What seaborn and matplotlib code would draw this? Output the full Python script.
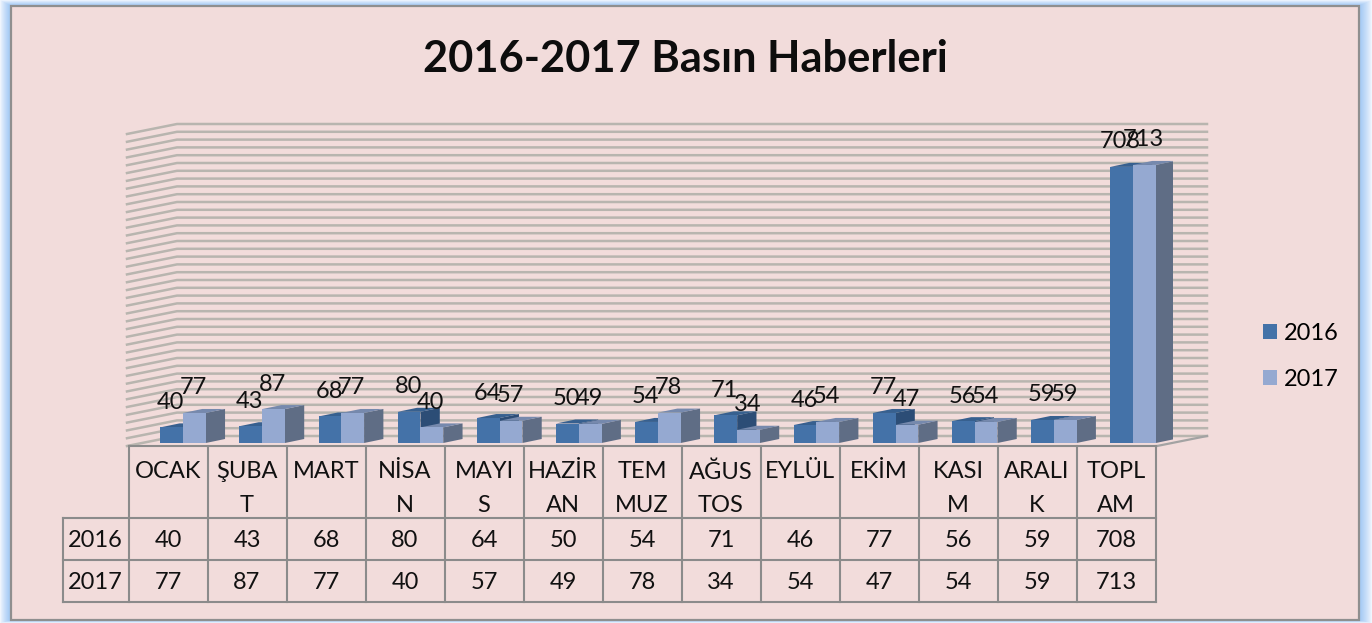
import numpy as np
import pandas as pd
import matplotlib
matplotlib.use("Agg")
import matplotlib.pyplot as plt
from matplotlib.patches import Rectangle, Polygon
import seaborn as sns

# ---- data ----
categories = ["OCAK", "ŞUBAT", "MART", "NİSAN", "MAYIS", "HAZİRAN", "TEMMUZ",
              "AĞUSTOS", "EYLÜL", "EKİM", "KASIM", "ARALIK", "TOPLAM"]
header_labels = ["OCAK", "ŞUBA\nT", "MART", "NİSA\nN", "MAYI\nS", "HAZİR\nAN", "TEM\nMUZ",
                 "AĞUS\nTOS", "EYLÜL", "EKİM", "KASI\nM", "ARALI\nK", "TOPL\nAM"]
values_2016 = [40, 43, 68, 80, 64, 50, 54, 71, 46, 77, 56, 59, 708]
values_2017 = [77, 87, 77, 40, 57, 49, 78, 34, 54, 47, 54, 59, 713]
series_names = ["2016", "2017"]
title_text = "2016-2017 Basın Haberleri"

# ---- style / layout ----
W, H = 1372, 623
PINK = "#f2dcdb"
BLUE, LIGHT = "#4472a8", "#95a9d1"
SIDES = {"2016": "#2c4d76", "2017": "#5f6d85"}
TOPS = {"2016": "#37608f", "2017": "#7689ad"}
GRID = "#b8b5af"
TABLE = "#8b8b8b"
FONT = "Lato"
FS = 17
plt.rcParams["font.family"] = [FONT, "DejaVu Sans"]


def px_axes(fig, left, top, right, bottom, **kw):
    return fig.add_axes([left / W, 1 - bottom / H, (right - left) / W, (bottom - top) / H], **kw)


fig = plt.figure(figsize=(W / 100, H / 100), dpi=100)

# backdrop with the soft blue edge, and the pink panel
bg = px_axes(fig, 0, 0, W, H, zorder=0)
xx, yy = np.meshgrid(np.arange(W) + .5, np.arange(H) + .5)
edge = np.minimum.reduce([xx / 9, (W - xx) / 11, yy / 5, (H - yy) / 2.5])
edge = np.clip(edge, 0, 1) ** .8
c0, c1 = np.array([.97, .98, 1.0]), np.array([.66, .80, .96])
bg.imshow(c0 + (c1 - c0) * edge[..., None], extent=(0, W, H, 0), aspect="auto")
bg.add_patch(Rectangle((10.5, 6), 1348.5, 614, fc=PINK, ec="#8f8f8f", lw=1.6))
bg.set_xlim(0, W)
bg.set_ylim(H, 0)
bg.axis("off")

# back wall with its gridlines, y scale 0..800
wall = px_axes(fig, 177, 124, 1207, 436, zorder=1)
wall.set_xlim(0, 1)
wall.set_ylim(0, 800)
wall.axis("off")
wall_dx = 50 / 1030
wall_dy = 10 / 312 * 800
for v in range(0, 801, 20):
    wall.plot([-wall_dx, 0, 1], [v - wall_dy, v, v], color=GRID, lw=1.8, clip_on=False,
              solid_joinstyle="miter")
wall.plot([1, 1 - wall_dx], [0, -wall_dy], color="#a3a3a3", lw=1.6, clip_on=False)

# bars
df = pd.DataFrame({
    "month": categories * 2,
    "count": values_2016 + values_2017,
    "year": [series_names[0]] * len(categories) + [series_names[1]] * len(categories),
})
ax = px_axes(fig, 143.4, 131, 1172.6, 443, zorder=2)
ax.patch.set_alpha(0)
sns.barplot(data=df, x="month", y="count", hue="year", hue_order=series_names,
            order=categories, palette=[BLUE, LIGHT], width=0.575, gap=0, saturation=1,
            ax=ax, legend=True, zorder=5, linewidth=0)
ax.set_xlim(-0.5, 12.5)
ax.set_ylim(0, 800)
ax.axis("off")

# extrusion derived from each bar's own geometry
depth_x = 19.3 / (1029.2 / 13)
depth_y = 4 / 0.39
for i, (name, cont) in enumerate(zip(series_names, ax.containers)):
    for bar in cont:
        x0, w, h = bar.get_x(), bar.get_width(), bar.get_height()
        x1 = x0 + w
        ax.add_patch(Polygon([(x1, 0), (x1 + depth_x, depth_y), (x1 + depth_x, h + depth_y), (x1, h)],
                             fc=SIDES[name], ec="none", zorder=2 + i))
        ax.add_patch(Polygon([(x0, h), (x0 + depth_x, h + depth_y), (x1 + depth_x, h + depth_y), (x1, h)],
                             fc=TOPS[name], ec="none", zorder=2.2 + i))

# data labels
for cont in ax.containers:
    for bar in cont:
        h = bar.get_height()
        ax.annotate(f"{h:.0f}", (bar.get_x() + bar.get_width() / 2, h), xytext=(-1, 25),
                    textcoords="offset pixels", ha="center", va="center", fontsize=FS,
                    color="#111111", zorder=8, annotation_clip=False)

# legend
handles = [Rectangle((0, 0), 1, 1, fc=c) for c in (BLUE, LIGHT)]
ax.get_legend().remove()
leg = fig.legend(handles, series_names, loc="center left",
                 bbox_to_anchor=(1263 / W, 1 - 356.5 / H), frameon=False, fontsize=FS,
                 handlelength=.6, handleheight=.6, handletextpad=.27, labelspacing=1.08,
                 borderpad=0, borderaxespad=0)

# data table
tb = px_axes(fig, 0, 0, W, H, zorder=3)
tb.patch.set_alpha(0)
tb.set_xlim(0, W)
tb.set_ylim(H, 0)
tb.axis("off")
x_lines = [128.5 + 79.0 * i for i in range(14)]
y_rows = [446, 518, 560, 601.5]
lk = dict(color=TABLE, lw=1.5, solid_capstyle="projecting")
tb.plot([x_lines[0], x_lines[-1]], [y_rows[0]] * 2, **lk)
for y in y_rows[1:]:
    tb.plot([63, x_lines[-1]], [y, y], **lk)
tb.plot([63, 63], [y_rows[1], y_rows[3]], **lk)
for x in x_lines:
    tb.plot([x, x], [y_rows[0], y_rows[3]], **lk)
tk = dict(ha="center", va="center", fontsize=FS, color="#111111")
for i, lab in enumerate(header_labels):
    cx = (x_lines[i] + x_lines[i + 1]) / 2
    lines = lab.split("\n")
    tb.text(cx, 472, lines[0], **tk)
    if len(lines) > 1:
        tb.text(cx, 506, lines[1], **tk)
    tb.text(cx, 540.5, str(values_2016[i]), **tk)
    tb.text(cx, 582.5, str(values_2017[i]), **tk)
tb.text(95.5, 540.5, series_names[0], **tk)
tb.text(95.5, 582.5, series_names[1], **tk)

# title
tb.text(685.5, 59.5, title_text, ha="center", va="center", fontsize=31.2, fontweight="bold",
        color="#0d0d0d")

fig.savefig("out.png", dpi=100, facecolor="white")
